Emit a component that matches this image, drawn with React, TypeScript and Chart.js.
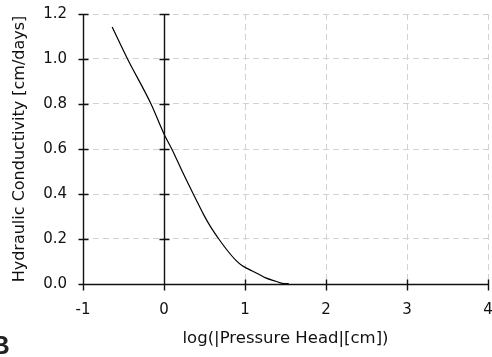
import React, { useEffect, useRef } from "react";
import { Chart, registerables } from "chart.js";

Chart.register(...registerables);

// log10(|pressure head| [cm])
const logPressureHead = [-0.64, -0.45, -0.16, 0, 0.102, 0.226, 0.391, 0.494, 0.576, 0.679, 0.78, 0.885, 0.967, 1.09, 1.17, 1.255, 1.38, 1.46, 1.54];
// hydraulic conductivity [cm/days]
const conductivity = [1.142, 1.0, 0.8, 0.667, 0.596, 0.5, 0.379, 0.305, 0.254, 0.199, 0.15, 0.106, 0.081, 0.058, 0.043, 0.027, 0.012, 0.003, 0.002];

const xTicks = [-1, 0, 1, 2, 3, 4];
const yTicks = [0, 0.2, 0.4, 0.6, 0.8, 1.0, 1.2];

const xTitle = "log(|Pressure Head|[cm])";
const yTitle = "Hydraulic Conductivity [cm/days]";

const FONT = "'DejaVu Sans', Verdana, sans-serif";

const crossAxesPlugin = {
  id: "crossAxes",
  afterDraw(chart: any) {
    const { ctx } = chart;
    const x = chart.scales.x;
    const y = chart.scales.y;
    const px = (v: number) => Math.round(x.getPixelForValue(v)) + 0.5;
    const py = (v: number) => Math.round(y.getPixelForValue(v)) + 0.5;
    const yTop = py(yTicks[yTicks.length - 1]);
    const yZero = py(0);
    const xLeft = px(xTicks[0]);
    const xRight = px(xTicks[xTicks.length - 1]);
    ctx.save();
    ctx.strokeStyle = "#111";
    ctx.lineWidth = 1.4;
    ctx.beginPath();
    [xTicks[0], 0].forEach((v) => {
      const vx = px(v);
      ctx.moveTo(vx, yTop);
      ctx.lineTo(vx, yZero);
      yTicks.forEach((t) => {
        const ty = py(t);
        ctx.moveTo(vx - 5, ty);
        ctx.lineTo(vx + 5, ty);
      });
    });
    ctx.moveTo(xLeft, yZero);
    ctx.lineTo(xRight, yZero);
    xTicks.forEach((t) => {
      const tx = px(t);
      ctx.moveTo(tx, yZero - 5);
      ctx.lineTo(tx, yZero + 6);
    });
    ctx.stroke();
    // partial figure letter at the lower left edge
    ctx.fillStyle = "#222";
    ctx.font = "bold 26px 'Liberation Sans', Arial, sans-serif";
    ctx.textBaseline = "alphabetic";
    ctx.fillText("B", -9, 354);
    ctx.restore();
  },
};

export default function App() {
  const ref = useRef<HTMLCanvasElement | null>(null);
  useEffect(() => {
    document.body.style.margin = "0";
    const canvas = ref.current;
    if (!canvas) return;
    const chart = new Chart(canvas, {
      type: "line",
      data: {
        datasets: [
          {
            data: logPressureHead.map((v, i) => ({ x: v, y: conductivity[i] })),
            borderColor: "#000",
            borderWidth: 1.2,
            pointRadius: 0,
            cubicInterpolationMode: "monotone",
            fill: false,
          },
        ],
      },
      options: {
        animation: false,
        responsive: true,
        maintainAspectRatio: false,
        layout: { padding: { left: 0, right: 4, top: 14, bottom: 0 } },
        plugins: { legend: { display: false }, tooltip: { enabled: false } },
        scales: {
          x: {
            type: "linear",
            min: xTicks[0],
            max: xTicks[xTicks.length - 1],
            afterBuildTicks: (s: any) => {
              s.ticks = xTicks.map((v) => ({ value: v }));
            },
            afterFit: (s: any) => {
              s.height = 73;
              s.paddingLeft = 0;
              s.paddingRight = 0;
            },
            grid: { color: "#d2d2d2", lineWidth: 1, drawTicks: false },
            border: { display: false, dash: [6, 4] },
            ticks: {
              padding: 17,
              color: "#111",
              font: { family: FONT, size: 15 },
              callback: (v: any) => String(v),
            },
            title: {
              display: true,
              text: xTitle,
              color: "#111",
              font: { family: FONT, size: 16.5 },
              padding: { top: 0, bottom: 8 },
            },
          },
          y: {
            type: "linear",
            min: yTicks[0],
            max: yTicks[yTicks.length - 1],
            afterBuildTicks: (s: any) => {
              s.ticks = yTicks.map((v) => ({ value: v }));
            },
            afterFit: (s: any) => {
              s.width = 83;
              s.paddingTop = 0;
              s.paddingBottom = 0;
            },
            grid: { color: "#d2d2d2", lineWidth: 1, drawTicks: false },
            border: { display: false, dash: [6, 4] },
            ticks: {
              padding: 16,
              color: "#111",
              font: { family: FONT, size: 15 },
              callback: (v: any) => Number(v).toFixed(1),
            },
            title: {
              display: true,
              text: yTitle,
              color: "#111",
              font: { family: FONT, size: 16 },
              padding: { top: 10, bottom: 0 },
            },
          },
        },
      },
      plugins: [crossAxesPlugin],
    });
    return () => chart.destroy();
  }, []);
  return (
    <div style={{ width: 492, height: 357, position: "relative", background: "#fff" }}>
      <canvas ref={ref} />
    </div>
  );
}
